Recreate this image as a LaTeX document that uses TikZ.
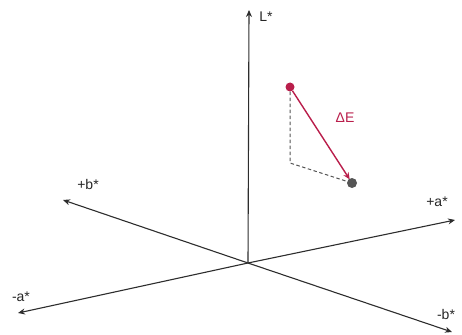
\documentclass[tikz,border=0pt]{standalone}
\usepackage{fontspec}
\setmainfont{Liberation Sans}
\usepackage{tikz}
\usetikzlibrary{arrows.meta,positioning}
\definecolor{deltared}{RGB}{185,30,75}
\definecolor{axisgray}{RGB}{45,45,45}
\definecolor{dotgray}{RGB}{85,85,85}

\begin{document}
\begin{tikzpicture}[x=1pt,y=-1pt,>={Stealth[length=7pt,width=6pt]}]
    \useasboundingbox (0,0) rectangle (462,334);
    \tikzset{axis/.style={->,draw=axisgray,line width=1.1pt},
             lab/.style={font=\fontsize{14}{16}\selectfont,text=black!85,inner sep=1pt}}

    \coordinate (o) at (248,263);
    \coordinate (lp) at (249,10);
    \coordinate (bp) at (63,200);
    \coordinate (am) at (18,313);
    \coordinate (ap) at (455,220);
    \coordinate (bm) at (452,332);

    \node[lab] (lL) at (266,17) {L*};
    \node[lab] (lbp) at (88,184) {+b*};
    \node[lab] (lam) at (21,297) {-a*};
    \node[lab] (lap) at (437,202) {+a*};
    \node[lab] (lbm) at (446,314) {-b*};

    \draw[axis] (o) -- (lp);
    \draw[axis] (o) -- (bp);
    \draw[axis] (o) -- (am);
    \draw[axis] (o) -- (ap);
    \draw[axis] (o) -- (bm);

    \node[circle,fill=deltared,inner sep=0pt,minimum size=9pt] (c1) at (290,87) {};
    \node[circle,fill=dotgray,inner sep=0pt,minimum size=10pt] (c2) at (352,183) {};
    \coordinate (k) at (290,163);

    \draw[dotgray,line width=1pt,dash pattern=on 3.5pt off 2.5pt] (c1) -- (k) -- (c2);
    \draw[->,deltared,line width=1.4pt,shorten >=-1pt] (c1) -- (c2);

    \node[lab,text=deltared] (dE) at (345,118) {ΔE};
\end{tikzpicture}
\end{document}
